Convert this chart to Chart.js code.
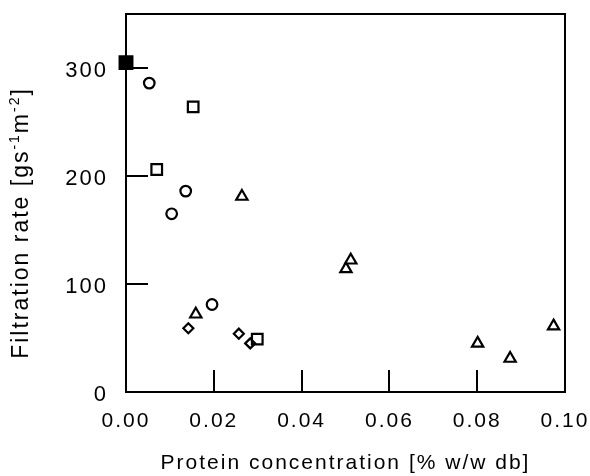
<!DOCTYPE html>
<html><head><meta charset="utf-8">
<script src="https://cdn.jsdelivr.net/npm/chart.js@4"></script>
<style>html,body{margin:0;padding:0;background:#fff}#wrap{width:590px;height:476px;position:relative}</style>
</head><body><div id="wrap"><canvas id="c"></canvas></div>
<script>
// ---- data ----
const xTicks = [0, 0.02, 0.04, 0.06, 0.08, 0.10];
const xTickLabels = ['0.00', '0.02', '0.04', '0.06', '0.08', '0.10'];
const yTicks = [0, 100, 200, 300];
const yTickLabels = ['0', '100', '200', '300'];
const xInnerTicks = [0.02, 0.04, 0.06, 0.08];
const yInnerTicks = [100, 200, 300];
const xTitle = 'Protein concentration [% w/w db]';
const yTitleMain1 = 'Filtration rate [gs';
const yTitleSup1 = '-1';
const yTitleMain2 = 'm';
const yTitleSup2 = '-2';
const yTitleMain3 = ']';

const filledSquareX = [0];
const filledSquareY = [305];
const circleX = [0.0053, 0.0104, 0.0136, 0.0196];
const circleY = [286, 165, 186, 81];
const squareX = [0.0070, 0.0153, 0.0299];
const squareY = [206, 264, 49];
const triangleX = [0.0159, 0.0264, 0.0501, 0.0512, 0.0801, 0.0875, 0.0974];
const triangleY = [72, 181, 114, 122, 45, 31, 61];
const diamondX = [0.0142, 0.0257, 0.0283];
const diamondY = [59, 54, 45];

const pts = (xs, ys) => xs.map((v, i) => ({x: v, y: ys[i]}));
const FONT = '"Liberation Sans", Arial, sans-serif';

function ds(data, style, radius, filled) {
  return {
    data, pointStyle: style, pointRadius: radius, pointHoverRadius: radius,
    pointBorderWidth: 2.2, borderColor: '#000',
    backgroundColor: filled ? '#000' : '#fff',
    pointBackgroundColor: filled ? '#000' : 'rgba(0,0,0,0)',
    pointBorderColor: '#000', showLine: false, clip: false
  };
}

const framePlugin = {
  id: 'frame',
  beforeDraw(chart) { chart.ctx.letterSpacing = '2px'; },
  beforeDatasetsDraw(chart) {
    const {ctx, chartArea: a, scales: {x, y}} = chart;
    ctx.save();
    ctx.strokeStyle = '#000';
    ctx.lineWidth = 2;
    ctx.strokeRect(a.left, a.top, a.right - a.left, a.bottom - a.top);
    ctx.beginPath();
    yInnerTicks.forEach(v => {
      const py = Math.round(y.getPixelForValue(v));
      ctx.moveTo(a.left, py); ctx.lineTo(a.left + 22, py);
    });
    xInnerTicks.forEach(v => {
      const px = Math.round(x.getPixelForValue(v));
      ctx.moveTo(px, a.bottom); ctx.lineTo(px, a.bottom - 22);
    });
    ctx.stroke();
    ctx.restore();
  },
  afterDraw(chart) {
    const ctx = chart.ctx;
    ctx.save();
    ctx.letterSpacing = '2px';
    ctx.fillStyle = '#000';
    const big = '23px ' + FONT, small = '14px ' + FONT;
    const parts = [[yTitleMain1, big, 0], [yTitleSup1, small, 9], [yTitleMain2, big, 0], [yTitleSup2, small, 9], [yTitleMain3, big, 0]];
    let total = 0;
    parts.forEach(p => { ctx.font = p[1]; total += ctx.measureText(p[0]).width; });
    const cy = 223;
    ctx.translate(28, cy + total / 2);
    ctx.rotate(-Math.PI / 2);
    ctx.textBaseline = 'alphabetic';
    ctx.textAlign = 'left';
    let xx = 0;
    parts.forEach(p => {
      ctx.font = p[1];
      ctx.fillText(p[0], xx, -p[2]);
      xx += ctx.measureText(p[0]).width;
    });
    ctx.restore();
  }
};

new Chart(document.getElementById('c'), {
  type: 'scatter',
  data: {
    datasets: [
      ds(pts(filledSquareX, filledSquareY), 'rect', 9, true),
      ds(pts(circleX, circleY), 'circle', 5.3, false),
      ds(pts(squareX, squareY), 'rect', 7.5, false),
      ds(pts(triangleX, triangleY), 'triangle', 6.5, false),
      ds(pts(diamondX, diamondY), 'rectRot', 5, false)
    ]
  },
  options: {
    responsive: true, maintainAspectRatio: false, animation: false,
    layout: {padding: {top: 14, right: 25, left: 0, bottom: 0}},
    plugins: {legend: {display: false}, tooltip: {enabled: false}},
    scales: {
      x: {
        type: 'linear', position: 'bottom', min: 0, max: 0.1,
        afterBuildTicks: s => { s.ticks = xTicks.map(v => ({value: v})); },
        afterFit: s => { s.height = 84; s.paddingLeft = 0; s.paddingRight = 0; },
        ticks: {
          callback: (v, i) => xTickLabels[i], color: '#000', padding: 17,
          font: {family: FONT, size: 21}, maxRotation: 0, autoSkip: false
        },
        grid: {display: false, drawTicks: false},
        border: {display: false},
        title: {display: true, text: xTitle, color: '#000', font: {family: FONT, size: 21}, padding: {top: 0, bottom: 0}}
      },
      y: {
        type: 'linear', position: 'left', min: 0, max: 350,
        afterBuildTicks: s => { s.ticks = yTicks.map(v => ({value: v})); },
        afterFit: s => { s.width = 126; s.paddingTop = 0; s.paddingBottom = 0; },
        ticks: {
          callback: (v, i) => yTickLabels[i], color: '#000', padding: 18, labelOffset: 3,
          font: {family: FONT, size: 22}, autoSkip: false
        },
        grid: {display: false, drawTicks: false},
        border: {display: false}
      }
    }
  },
  plugins: [framePlugin]
});
</script>
</body></html>
